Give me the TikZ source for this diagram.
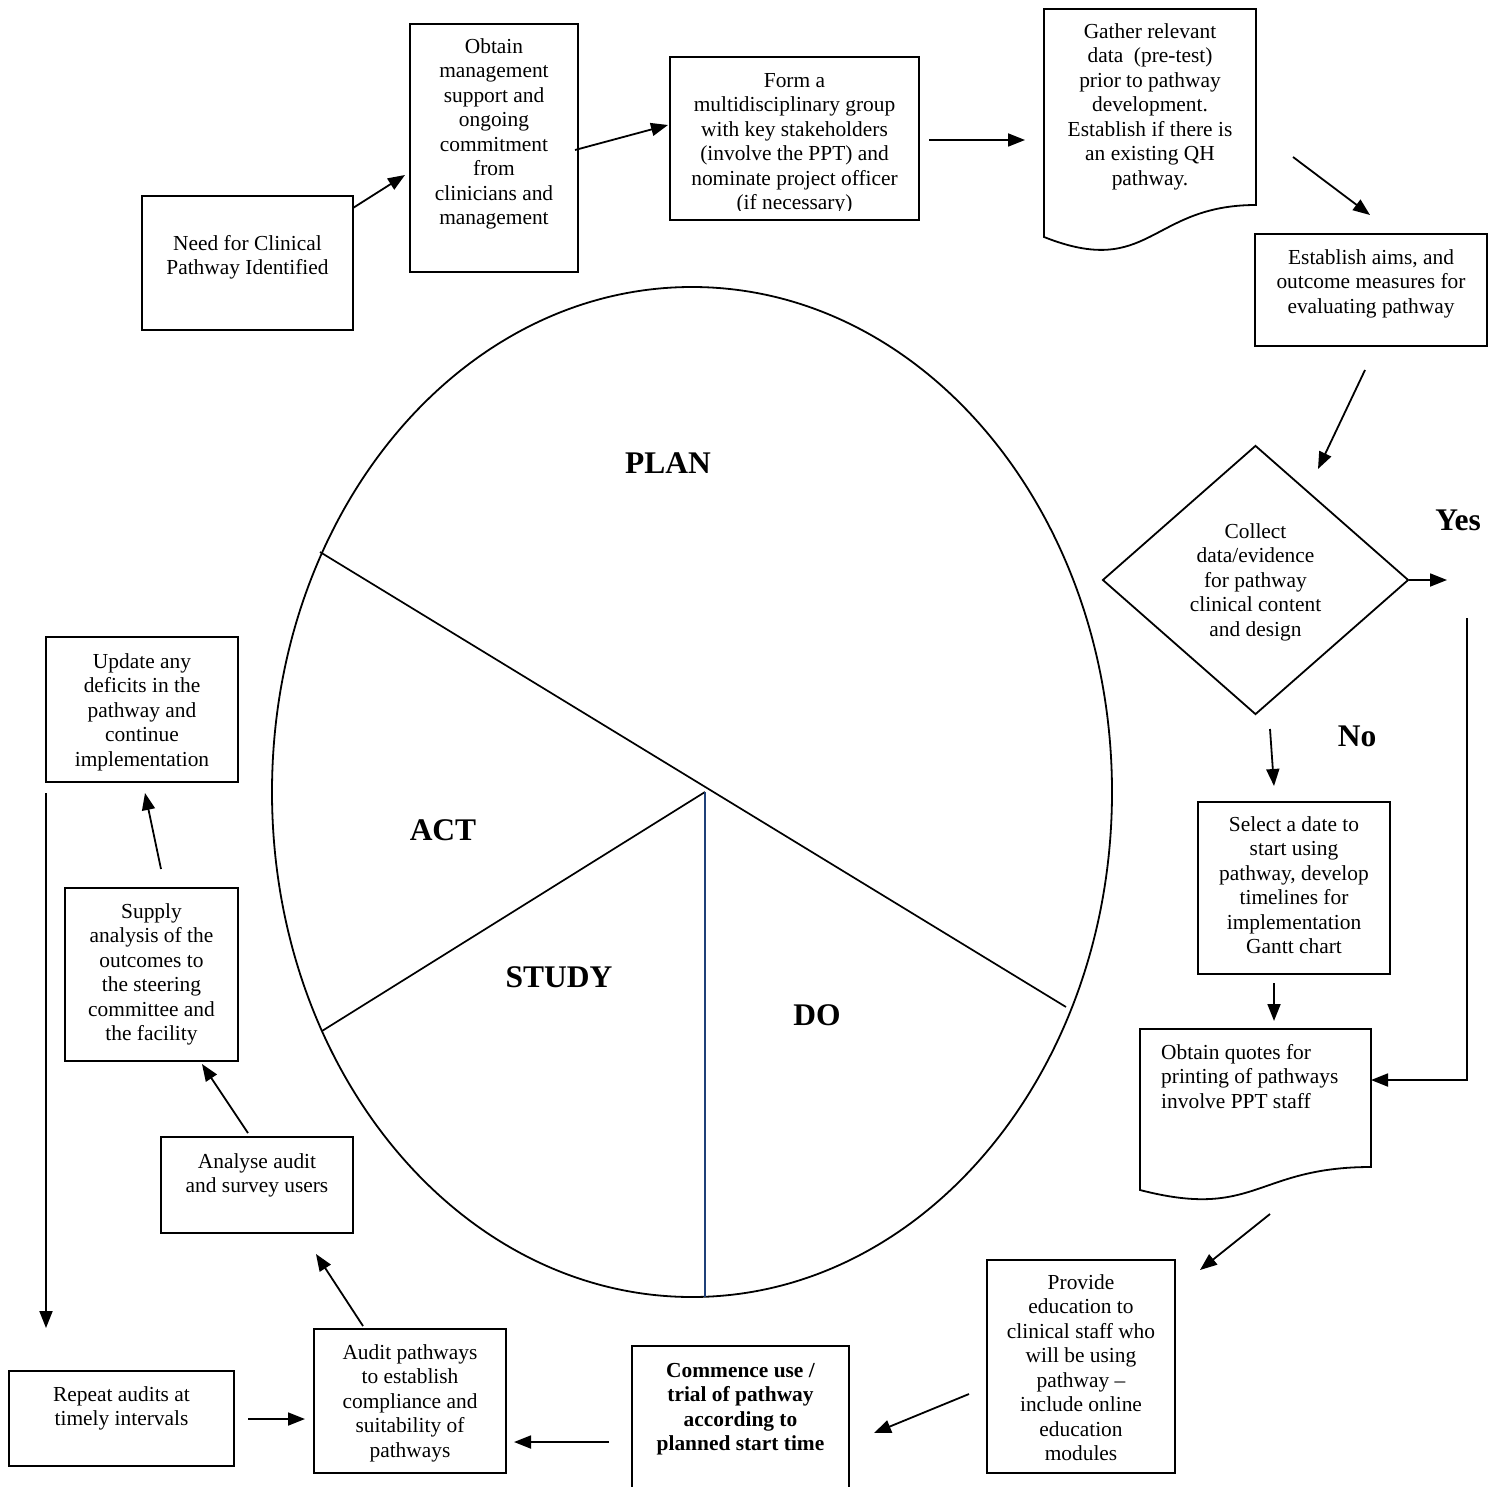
\documentclass[tikz,border=0pt]{standalone}
\usepackage{fontspec}
\setmainfont{Liberation Serif}
\usetikzlibrary{arrows.meta,shapes.geometric}
\definecolor{navyline}{RGB}{31,64,120}
\begin{document}
\begin{tikzpicture}[x=1pt,y=-1pt,
  box/.style={draw, line width=1.8pt, inner sep=0pt},
  txt/.style={font=\fontsize{21.4}{24.5}\selectfont, align=center, inner sep=0pt, anchor=north},
  txtb/.style={txt, font=\fontsize{21.4}{24.5}\selectfont\bfseries},
  big/.style={font=\fontsize{31.5}{36}\selectfont\bfseries, inner sep=0pt},
  arr/.style={line width=1.8pt, -{Triangle[length=17pt,width=13pt]}},
  ln/.style={line width=1.7pt}]
\useasboundingbox (0,0) rectangle (1501,1487);

% ---- PDSA ellipse ----
\node[draw, ellipse, line width=1.8pt, minimum width=840, minimum height=1010, inner sep=0pt] (pdsa) at (692,792) {};
\coordinate (e1) at (320,552);
\coordinate (e2) at (1066,1007);
\coordinate (jn) at (705,792);
\coordinate (e3) at (322,1031);
\coordinate (e4) at (705,1297);
\draw[ln] (e1) -- (e2);
\draw[ln] (jn) -- (e3);
\draw[line width=1.7pt, navyline] (jn) -- (e4);
\node[big] (plan) at (668,463) {PLAN};
\node[big] (act) at (443,830) {ACT};
\node[big] (study) at (559,977) {STUDY};
\node[big] (do) at (817,1015) {DO};

% ---- boxes ----
\node[box, minimum width=211, minimum height=134] (need) at (247.5,263) {};
\node[txt] (needT) at (247.5,233) {\strut Need for Clinical\\Pathway Identified};

\node[box, minimum width=168, minimum height=248] (obt) at (494,148) {};
\node[txt] (obtT) at (494,36) {\strut Obtain\\management\\support and\\ongoing\\commitment\\from\\clinicians and\\management};

\node[box, minimum width=249, minimum height=163] (form) at (794.5,138.5) {};
\begin{scope}
\clip (672,59) rectangle (917,211);
\node[txt] (formT) at (794.5,70) {\strut Form a\\multidisciplinary group\\with key stakeholders\\(involve the PPT) and\\nominate project officer\\(if necessary)};
\end{scope}

\draw[line width=1.8pt] (1044,9) -- (1256,9) -- (1256,205) .. controls (1150,205) and (1150,279) .. (1044,237) -- cycle;
\node[txt] (gathT) at (1150,21) {\strut Gather relevant\\data\ \ (pre-test)\\prior to pathway\\development.\\Establish if there is\\an existing QH\\pathway.};

\node[box, minimum width=232, minimum height=112] (aims) at (1371,290) {};
\node[txt] (aimsT) at (1371,247) {\strut Establish aims, and\\outcome measures for\\evaluating pathway};

\node[draw, diamond, line width=1.8pt, minimum width=306, minimum height=269, inner sep=0pt] (dia) at (1255.5,580) {};
\node[txt] (diaT) at (1255.5,521) {\strut Collect\\data/evidence\\for pathway\\clinical content\\and design};
\node[big] (yes) at (1458,520) {Yes};
\node[big] (no) at (1357,736) {No};

\node[box, minimum width=192, minimum height=172] (sel) at (1294,888) {};
\node[txt] (selT) at (1294,814) {\strut Select a date to\\start using\\pathway, develop\\timelines for\\implementation\\Gantt chart};

\draw[line width=1.8pt] (1140,1029) -- (1371,1029) -- (1371,1167) .. controls (1255.5,1167) and (1255.5,1220) .. (1140,1190) -- cycle;
\node[txt, anchor=north west, align=left] (quoT) at (1161,1042) {\strut Obtain quotes for\\printing of pathways\\involve PPT staff};

\node[box, minimum width=188, minimum height=213] (prov) at (1081,1366.5) {};
\node[txt] (provT) at (1081,1272) {\strut Provide\\education to\\clinical staff who\\will be using\\pathway --\\include online\\education\\modules};

\node[box, minimum width=217, minimum height=156] (com) at (740.5,1424) {};
\node[txtb] (comT) at (740.5,1360) {\strut Commence use /\\trial of pathway\\according to\\planned start time};

\node[box, minimum width=192, minimum height=144] (aud) at (410,1401) {};
\node[txt] (audT) at (410,1342) {\strut Audit pathways\\to establish\\compliance and\\suitability of\\pathways};

\node[box, minimum width=225, minimum height=95] (rep) at (121.5,1418.5) {};
\node[txt] (repT) at (121.5,1384) {\strut Repeat audits at\\timely intervals};

\node[box, minimum width=192, minimum height=96] (ana) at (257,1185) {};
\node[txt] (anaT) at (257,1151) {\strut Analyse audit\\and survey users};

\node[box, minimum width=173, minimum height=173] (sup) at (151.5,974.5) {};
\node[txt] (supT) at (151.5,901) {\strut Supply\\analysis of the\\outcomes to\\the steering\\committee and\\the facility};

\node[box, minimum width=192, minimum height=145] (upd) at (142,709.5) {};
\node[txt] (updT) at (142,651) {\strut Update any\\deficits in the\\pathway and\\continue\\implementation};

% ---- connector end points ----
\coordinate (a1s) at (353,208);   \coordinate (a1e) at (405,175);
\coordinate (a2s) at (575,150);   \coordinate (a2e) at (668,125);
\coordinate (a3s) at (929,140);   \coordinate (a3e) at (1025,140);
\coordinate (a4s) at (1293,157);  \coordinate (a4e) at (1370,215);
\coordinate (a5s) at (1365,370);  \coordinate (a5e) at (1318,469);
\coordinate (a6e) at (1447,580);
\coordinate (a7s) at (1467,618);  \coordinate (a7m) at (1467,1080); \coordinate (a7e) at (1371,1080);
\coordinate (a8s) at (1270,729);  \coordinate (a8e) at (1274,786);
\coordinate (a9s) at (1274,983);  \coordinate (a9e) at (1274,1021);
\coordinate (a10s) at (1270,1214); \coordinate (a10e) at (1200,1270);
\coordinate (a11s) at (969,1394); \coordinate (a11e) at (874,1433);
\coordinate (a12s) at (609,1442); \coordinate (a12e) at (514,1442);
\coordinate (a13s) at (248,1419); \coordinate (a13e) at (305,1419);
\coordinate (a14s) at (363,1326); \coordinate (a14e) at (316,1254);
\coordinate (a15s) at (248,1133); \coordinate (a15e) at (202,1064);
\coordinate (a16s) at (161,869);  \coordinate (a16e) at (145,793);
\coordinate (a17s) at (46,793);   \coordinate (a17e) at (46,1328);

\draw[arr] (a1s) -- (a1e);
\draw[arr] (a2s) -- (a2e);
\draw[arr] (a3s) -- (a3e);
\draw[arr] (a4s) -- (a4e);
\draw[arr] (a5s) -- (a5e);
\draw[arr] (dia.east) -- (a6e);
\draw[arr] (a7s) -- (a7m) -- (a7e);
\draw[arr] (a8s) -- (a8e);
\draw[arr] (a9s) -- (a9e);
\draw[arr] (a10s) -- (a10e);
\draw[arr] (a11s) -- (a11e);
\draw[arr] (a12s) -- (a12e);
\draw[arr] (a13s) -- (a13e);
\draw[arr] (a14s) -- (a14e);
\draw[arr] (a15s) -- (a15e);
\draw[arr] (a16s) -- (a16e);
\draw[arr] (a17s) -- (a17e);
\end{tikzpicture}
\end{document}
